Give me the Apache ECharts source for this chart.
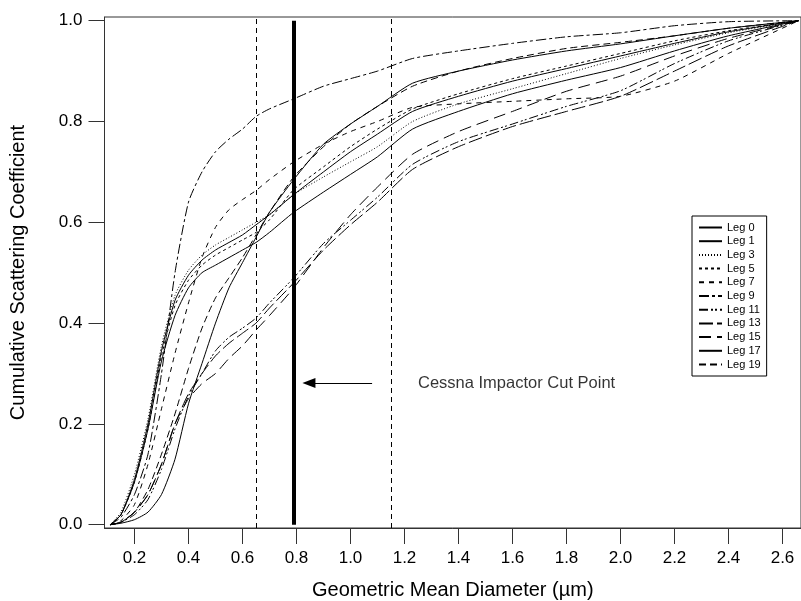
<!DOCTYPE html>
<html>
<head>
<meta charset="utf-8">
<script src="https://cdn.jsdelivr.net/npm/echarts@6/dist/echarts.min.js"></script>
<style>
  html, body { margin: 0; padding: 0; background: #fff; }
  #chart { width: 801px; height: 601px; }
</style>
</head>
<body>
<div id="chart"></div>
<script>
// diameters (µm) shared by every leg
const diameters = [0.11, 0.15, 0.2, 0.25, 0.3, 0.35, 0.4, 0.45, 0.5, 0.55, 0.6, 0.65, 0.7, 0.79, 0.9, 1.0, 1.1, 1.23, 1.4, 1.6, 1.8, 2.0, 2.2, 2.4, 2.66];

// cumulative scattering coefficient per leg
const leg0  = [0, 0.02, 0.09, 0.2, 0.345, 0.445, 0.495, 0.525, 0.545, 0.56, 0.575, 0.595, 0.615, 0.655, 0.7, 0.74, 0.775, 0.82, 0.85, 0.88, 0.905, 0.93, 0.955, 0.978, 1.0];
const leg1  = [0, 0.02, 0.085, 0.19, 0.325, 0.415, 0.47, 0.5, 0.515, 0.53, 0.545, 0.56, 0.58, 0.62, 0.66, 0.695, 0.73, 0.785, 0.82, 0.855, 0.882, 0.907, 0.94, 0.97, 1.0];
const leg3  = [0, 0.025, 0.1, 0.21, 0.355, 0.455, 0.505, 0.535, 0.555, 0.57, 0.585, 0.6, 0.615, 0.655, 0.69, 0.72, 0.75, 0.8, 0.835, 0.865, 0.895, 0.925, 0.952, 0.976, 1.0];
const leg5  = [0, 0.02, 0.085, 0.19, 0.335, 0.435, 0.485, 0.515, 0.535, 0.55, 0.565, 0.58, 0.605, 0.665, 0.71, 0.75, 0.785, 0.825, 0.855, 0.885, 0.91, 0.935, 0.96, 0.98, 1.0];
const leg7  = [0, 0.008, 0.04, 0.12, 0.23, 0.34, 0.44, 0.53, 0.59, 0.625, 0.645, 0.663, 0.685, 0.72, 0.755, 0.78, 0.8, 0.828, 0.835, 0.84, 0.845, 0.85, 0.88, 0.935, 1.0];
const leg9  = [0, 0.015, 0.06, 0.14, 0.3, 0.5, 0.64, 0.7, 0.74, 0.765, 0.785, 0.81, 0.825, 0.845, 0.87, 0.885, 0.9, 0.925, 0.94, 0.955, 0.968, 0.976, 0.99, 0.998, 1.0];
const leg11 = [0, 0.005, 0.02, 0.05, 0.11, 0.19, 0.255, 0.3, 0.345, 0.372, 0.39, 0.41, 0.44, 0.49, 0.558, 0.604, 0.65, 0.715, 0.76, 0.795, 0.83, 0.861, 0.915, 0.96, 1.0];
const leg13 = [0, 0.005, 0.025, 0.06, 0.12, 0.2, 0.26, 0.3, 0.335, 0.36, 0.38, 0.4, 0.43, 0.48, 0.545, 0.595, 0.64, 0.705, 0.75, 0.79, 0.82, 0.85, 0.9, 0.95, 1.0];
const leg15 = [0, 0.005, 0.025, 0.06, 0.12, 0.2, 0.25, 0.28, 0.3, 0.33, 0.355, 0.386, 0.415, 0.47, 0.55, 0.615, 0.67, 0.735, 0.78, 0.82, 0.86, 0.89, 0.93, 0.965, 1.0];
const leg17 = [0, 0.003, 0.01, 0.025, 0.06, 0.13, 0.24, 0.32, 0.4, 0.47, 0.52, 0.57, 0.62, 0.685, 0.755, 0.795, 0.83, 0.876, 0.9, 0.922, 0.94, 0.954, 0.97, 0.985, 1.0];
const leg19 = [0, 0.005, 0.025, 0.07, 0.14, 0.22, 0.31, 0.39, 0.45, 0.49, 0.53, 0.575, 0.62, 0.69, 0.75, 0.795, 0.83, 0.87, 0.9, 0.925, 0.945, 0.957, 0.97, 0.985, 1.0];

const legNames = ["Leg 0", "Leg 1", "Leg 3", "Leg 5", "Leg 7", "Leg 9", "Leg 11", "Leg 13", "Leg 15", "Leg 17", "Leg 19"];
const legValues = [leg0, leg1, leg3, leg5, leg7, leg9, leg11, leg13, leg15, leg17, leg19];
const legDash = ["solid", "solid", [1, 2], [3, 3], [5, 5], [10, 3, 3, 3], [9, 3, 2, 2, 2, 3], [14, 4], [12, 6], "solid", [7, 4]];

const xTicks = [0.2, 0.4, 0.6, 0.8, 1.0, 1.2, 1.4, 1.6, 1.8, 2.0, 2.2, 2.4, 2.6];
const yTicks = [0, 0.2, 0.4, 0.6, 0.8, 1.0];

// reference lines and annotation
const dashedCuts = [0.65, 1.15];
const cutPoint = 0.79;
const arrowFrom = [1.08, 0.281];
const arrowTo = [0.846, 0.281];
const noteAt = [1.25, 0.281];
const noteText = "Cessna Impactor Cut Point";

const font = "Liberation Sans, Arial, Helvetica, sans-serif";

const chart = echarts.init(document.getElementById("chart"), null, { renderer: "canvas" });

const series = legNames.map((name, i) => ({
  name: name,
  type: "line",
  data: diameters.map((d, j) => [d, legValues[i][j]]),
  symbol: "none",
  smooth: 0.2,
  lineStyle: { color: "#000", width: 1, type: legDash[i] },
  itemStyle: { color: "#000" },
  z: 3
}));

series.push({
  name: "note",
  type: "scatter",
  data: [noteAt],
  symbolSize: 0,
  silent: true,
  label: {
    show: true, position: "right", distance: 0, formatter: noteText,
    color: "#000", fontSize: 16.5, fontFamily: font
  },
  markLine: {
    silent: true,
    animation: false,
    symbol: ["none", "none"],
    label: { show: false },
    data: [
      ...dashedCuts.map(v => ({ xAxis: v, lineStyle: { type: [5, 4], width: 1, color: "#000" } })),
      [{ coord: [cutPoint, 0] }, { coord: [cutPoint, 1.0], lineStyle: { width: 4, color: "#000", type: "solid" } }],
      [{ coord: arrowFrom, symbol: "none" }, { coord: arrowTo, symbol: "triangle", symbolSize: [10, 13], symbolRotate: 90, lineStyle: { width: 1, color: "#000", type: "solid" } }]
    ]
  }
});

chart.setOption({
  animation: false,
  backgroundColor: "#fff",
  textStyle: { fontFamily: font, color: "#000" },
  grid: {
    left: 104.5, right: 0, top: 17, bottom: 73,
    containLabel: false, outerBoundsMode: "none",
    show: true, borderColor: "#333", borderWidth: 1
  },
  legend: {
    data: legNames,
    orient: "vertical",
    left: 692, top: 216,
    padding: [6, 6, 6, 6],
    itemGap: 2.7,
    itemWidth: 23, itemHeight: 11,
    borderColor: "#000", borderWidth: 1,
    itemStyle: { opacity: 0 },
    textStyle: { fontSize: 11, fontFamily: font, color: "#000" }
  },
  xAxis: {
    type: "value",
    min: 0.0889, max: 2.6685,
    name: "Geometric Mean Diameter (µm)",
    nameLocation: "middle", nameGap: 52,
    nameTextStyle: { fontSize: 20, fontFamily: font, color: "#000" },
    axisLine: { show: true, onZero: false, lineStyle: { color: "#333", width: 1 } },
    axisTick: { show: true, length: 16, inside: false, customValues: xTicks, lineStyle: { color: "#333" } },
    axisLabel: { customValues: xTicks, margin: 22, fontSize: 17, color: "#000", formatter: v => v.toFixed(1) },
    splitLine: { show: false }
  },
  yAxis: {
    type: "value",
    min: -0.0065, max: 1.0073,
    name: "Cumulative Scattering Coefficient",
    nameLocation: "middle", nameGap: 76,
    nameTextStyle: { fontSize: 20, fontFamily: font, color: "#000" },
    axisLine: { show: true, onZero: false, lineStyle: { color: "#333", width: 1 } },
    axisTick: { show: true, length: 16, inside: false, customValues: yTicks, lineStyle: { color: "#333" } },
    axisLabel: { customValues: yTicks, margin: 22, fontSize: 17, color: "#000", formatter: v => v.toFixed(1) },
    splitLine: { show: false }
  },
  series: series
});
</script>
</body>
</html>
